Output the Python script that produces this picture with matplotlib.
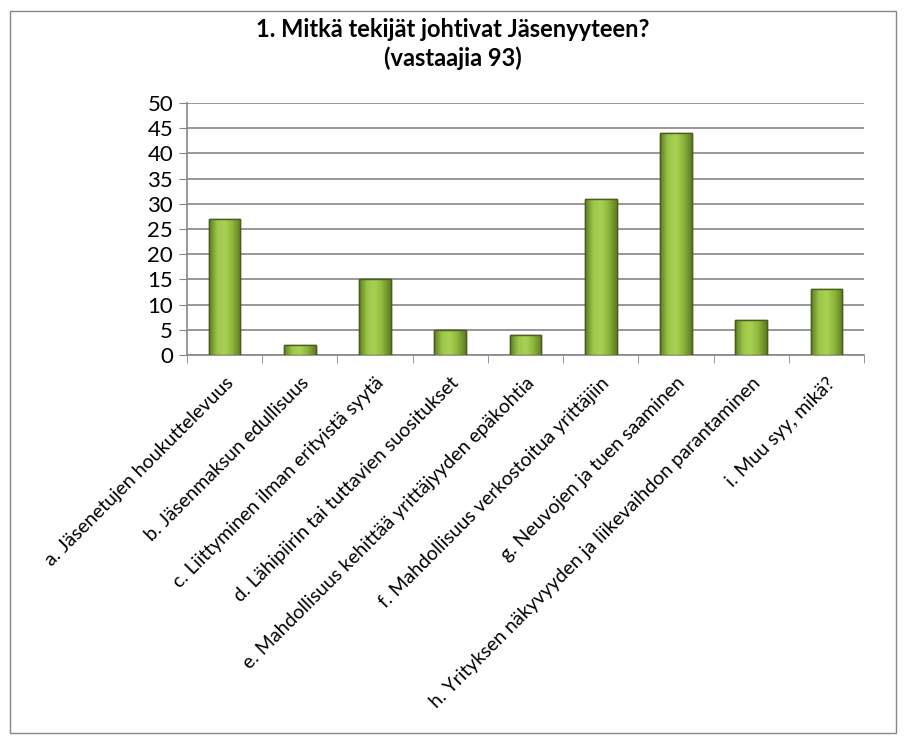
import matplotlib
matplotlib.use("Agg")

import matplotlib.pyplot as plt
import numpy as np
from matplotlib.patches import Rectangle
from matplotlib.colors import LinearSegmentedColormap

categories = [
    "a. Jäsenetujen houkuttelevuus",
    "b. Jäsenmaksun edullisuus",
    "c. Liittyminen ilman erityistä syytä",
    "d. Lähipiirin tai tuttavien suositukset",
    "e. Mahdollisuus kehittää yrittäjyyden epäkohtia",
    "f. Mahdollisuus verkostoitua yrittäjiin",
    "g. Neuvojen ja tuen saaminen",
    "h. Yrityksen näkyvyyden ja liikevaihdon parantaminen",
    "i. Muu syy, mikä?",
]
values = [27, 2, 15, 5, 4, 31, 44, 7, 13]
y_ticks = [0, 5, 10, 15, 20, 25, 30, 35, 40, 45, 50]

plt.rcParams["font.family"] = ["Lato", "DejaVu Sans"]

fig = plt.figure(figsize=(9.06, 7.44), dpi=100)
ax = fig.add_axes([187 / 906, 1 - 355 / 744, (864 - 187) / 906, (355 - 103) / 744])

x = np.arange(len(values))
bars = ax.bar(
    x,
    values,
    width=0.42,
    color="#8cb43a",
    edgecolor="#4a5e1e",
    linewidth=1.0,
    zorder=3
)

# horizontal gradient to mimic the bevelled Excel bars
grad_cmap = LinearSegmentedColormap.from_list(
    "bar", ["#5f7d22", "#9cc64a", "#a9d252", "#8cb43a", "#5f7d22"]
)
grad = np.linspace(0, 1, 64).reshape(1, -1)
for bar in bars:
    bx, by = bar.get_x(), bar.get_y()
    bw, bh = bar.get_width(), bar.get_height()
    im = ax.imshow(
        grad,
        cmap=grad_cmap,
        extent=(bx, bx + bw, by, by + bh),
        aspect="auto",
        zorder=3.5,
        interpolation="bicubic"
    )
    im.set_clip_path(bar)
    edge = Rectangle(
        (bx, by), bw, bh,
        fill=False,
        edgecolor="#4a5e1e",
        linewidth=1.0,
        zorder=4
    )
    ax.add_patch(edge)

ax.set_xlim(-0.5, len(values) - 0.5)
ax.set_ylim(0, 50)
ax.set_yticks(y_ticks)
ax.set_yticklabels([str(v) for v in y_ticks], fontsize=16)

ax.set_xticks(x)
ax.set_xticklabels(
    categories,
    rotation=45,
    ha="right",
    rotation_mode="anchor",
    fontsize=14
)
ax.tick_params(axis="x", length=0, pad=14)
ax.set_xticks(np.arange(len(values) + 1) - 0.5, minor=True)
ax.tick_params(axis="x", which="minor", length=6, color="#868686", direction="out")
ax.tick_params(axis="y", length=6, color="#868686", direction="out", pad=4)

ax.grid(axis="y", color="#868686", linewidth=1.2, zorder=0)
ax.set_axisbelow(True)

for side in ["top", "right"]:
    ax.spines[side].set_visible(False)
for side in ["left", "bottom"]:
    ax.spines[side].set_color("#868686")
    ax.spines[side].set_linewidth(1.2)

fig.text(
    0.5, 1 - 44 / 744,
    "1. Mitkä tekijät johtivat Jäsenyyteen?\n(vastaajia 93)",
    ha="center",
    va="center",
    fontsize=17,
    fontweight="bold",
    linespacing=1.3
)

border = Rectangle(
    (10 / 906, 11 / 744),
    (896 - 10) / 906,
    (733 - 11) / 744,
    transform=fig.transFigure,
    fill=False,
    edgecolor="#868686",
    linewidth=1.0
)
fig.patches.append(border)

plt.savefig("out.png", dpi=100)
plt.close()
